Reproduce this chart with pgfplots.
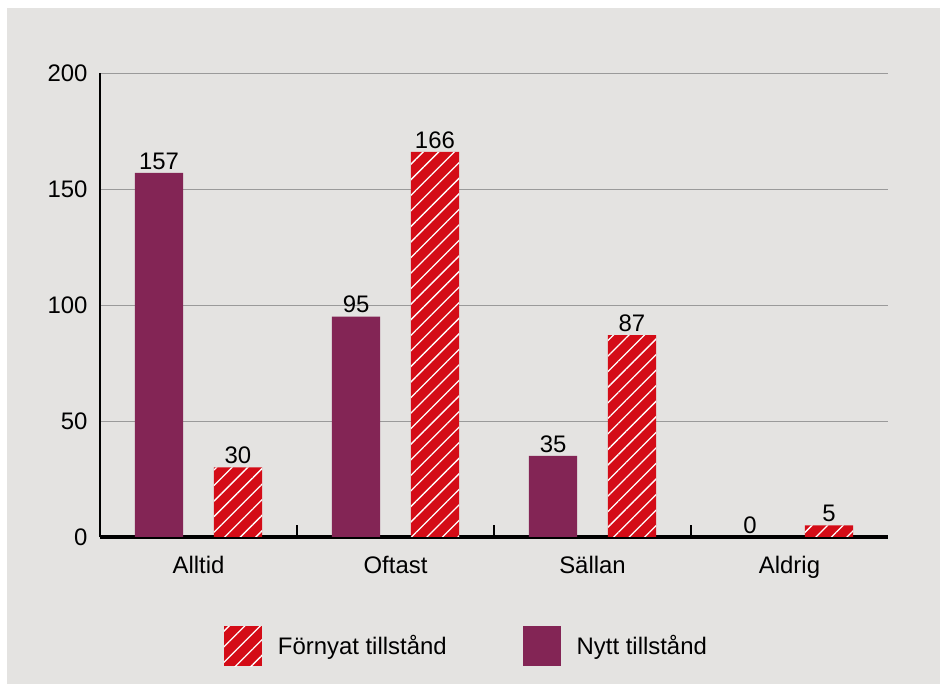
\documentclass[border=0pt]{standalone}
\usepackage{pgfplots}
\pgfplotsset{compat=1.18}
\usetikzlibrary{patterns.meta}
\usepackage{fontspec}
\setmainfont{Liberation Sans}

\definecolor{bggray}{HTML}{E4E3E1}
\definecolor{nytt}{HTML}{832555}
\definecolor{fornyat}{HTML}{D40C17}
\definecolor{gridgray}{HTML}{9A9A9A}

\newcommand\chartfont{\fontsize{24}{28}\selectfont}

\begin{document}
\begin{tikzpicture}[font=\chartfont]
\fill[white] (0,0) rectangle (940bp,684bp);
\fill[bggray] (7bp,0) rectangle (940bp,676bp);
\begin{axis}[
  at={(100bp,147bp)}, anchor=south west,
  scale only axis,
  width=788bp, height=464bp,
  ybar, bar width=0.245,
  xmin=-0.5, xmax=3.5,
  ymin=0, ymax=200,
  xtick={0,1,2,3},
  xticklabels={Alltid,Oftast,Sällan,Aldrig},
  minor xtick={0.5,1.5,2.5},
  major x tick style={draw=none},
  minor x tick style={line width=2.5bp, black},
  minor tick length=12bp,
  tick align=inside,
  ytick={0,50,100,150,200},
  y tick style={draw=none},
  axis x line*=bottom,
  axis y line*=left,
  x axis line style={line width=3bp, black, -},
  y axis line style={line width=2.5bp, black, -},
  ymajorgrids,
  grid style={gridgray, line width=0.8bp},
  /pgf/number format/assume math mode=true,
  tick label style={font=\chartfont},
  yticklabel style={xshift=-9bp},
  xticklabel style={yshift=-16bp},
  nodes near coords,
  every node near coord/.append style={font=\chartfont, black},
  legend columns=2,
  legend style={draw=none, fill=none, at={(0.157,-0.235)}, anchor=west,
    font=\chartfont, inner sep=0pt,
    /tikz/every even column/.append style={column sep=74bp}},
  legend image code/.code={\draw[#1,draw=none] (0bp,-20bp) rectangle (38bp,20bp);
    \path (52bp,0bp);},
  legend cell align=left,
]
\addplot+[bar shift=0.2, draw=none, fill=fornyat,
  postaction={pattern={Lines[angle=45,distance=11bp,line width=1.3bp]}, pattern color=white}]
  coordinates {(0,30) (1,166) (2,87) (3,5)};
\addlegendentry{Förnyat tillstånd}
\addplot+[bar shift=-0.2, draw=none, fill=nytt]
  coordinates {(0,157) (1,95) (2,35) (3,0)};
\addlegendentry{Nytt tillstånd}
\end{axis}
\end{tikzpicture}
\end{document}
